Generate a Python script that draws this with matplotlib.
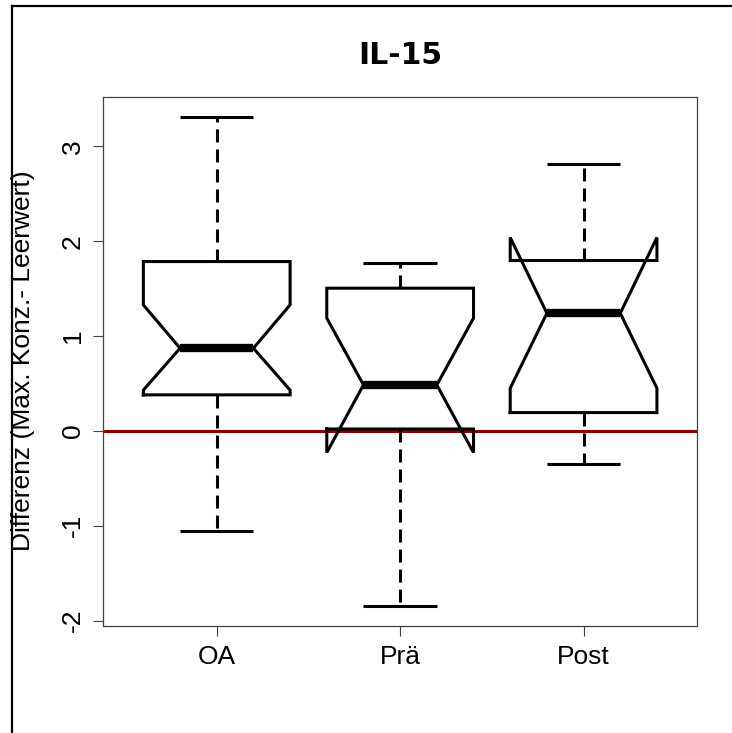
import numpy as np
import matplotlib
matplotlib.use("Agg")
import matplotlib.pyplot as plt
from matplotlib.lines import Line2D

# five-number summaries plus notch limits per group
groups = ["OA", "Prä", "Post"]
whislo = [-1.055, -1.846, -0.348]
q1 = [0.380, 0.020, 0.193]
cilo = [0.430, -0.229, 0.450]
med = [0.872, 0.485, 1.241]
cihi = [1.329, 1.189, 2.040]
q3 = [1.786, 1.505, 1.797]
whishi = [3.315, 1.775, 2.817]
yticks = [-2, -1, 0, 1, 2, 3]

plt.rcParams["font.family"] = ["Liberation Sans", "DejaVu Sans"]

fig = plt.figure(figsize=(7.32, 7.33), dpi=100)
ax = fig.add_axes([103 / 732, 1 - 625.5 / 733, 594.3 / 732, 528.5 / 733])

stats = []
for i, g in enumerate(groups):
    stats.append(dict(label=g, whislo=whislo[i], q1=q1[i], cilo=cilo[i], med=med[i],
                      cihi=cihi[i], q3=q3[i], whishi=whishi[i], fliers=[]))

pos = np.arange(1, len(groups) + 1)
ax.axhline(0, color="#8B0000", lw=2.2, zorder=1.5)
ax.bxp(stats, positions=pos, widths=0.8, capwidths=0.4, shownotches=True,
       showfliers=False,
       boxprops=dict(color="black", lw=2.2, solid_joinstyle="miter"),
       medianprops=dict(color="black", lw=6, solid_capstyle="butt"),
       whiskerprops=dict(color="black", lw=2.2, linestyle=(0, (4.25, 2.3))),
       capprops=dict(color="black", lw=2.2, solid_capstyle="butt"))

# R-style axis ranges: 4% padding around the data / box slots
n = len(groups)
ax.set_xlim(0.5 - 0.04 * n, n + 0.5 + 0.04 * n)
lo, hi = min(whislo), max(whishi)
rng = hi - lo
ax.set_ylim(lo - 0.04 * rng, hi + 0.04 * rng)

ax.set_xticks(pos)
ax.set_xticklabels(groups)
ax.set_yticks(yticks)
ax.set_yticklabels([str(t) for t in yticks], rotation=90, va="center")
ax.tick_params(axis="both", labelsize=19, length=7.2, width=0.8, color="#444444")
ax.tick_params(axis="x", pad=7)
ax.tick_params(axis="y", pad=6)
for s in ax.spines.values():
    s.set_linewidth(0.9)
    s.set_color("#444444")

fig.text(23.5 / 732, 1 - 361 / 733, "Differenz (Max. Konz.- Leerwert)",
         rotation=90, ha="center", va="center", fontsize=19)
fig.text(400 / 732, 1 - 64 / 733, "IL-15", ha="center", va="baseline",
         fontsize=21.5, fontweight="bold", family="DejaVu Sans")

# frame lines along the top and left edge
fig.add_artist(Line2D([12 / 732, 12 / 732], [0, 1 - 6 / 733], color="black", lw=1.6))
fig.add_artist(Line2D([12 / 732, 1], [1 - 6 / 733, 1 - 6 / 733], color="black", lw=1.6))

fig.savefig("out.png", dpi=100)
